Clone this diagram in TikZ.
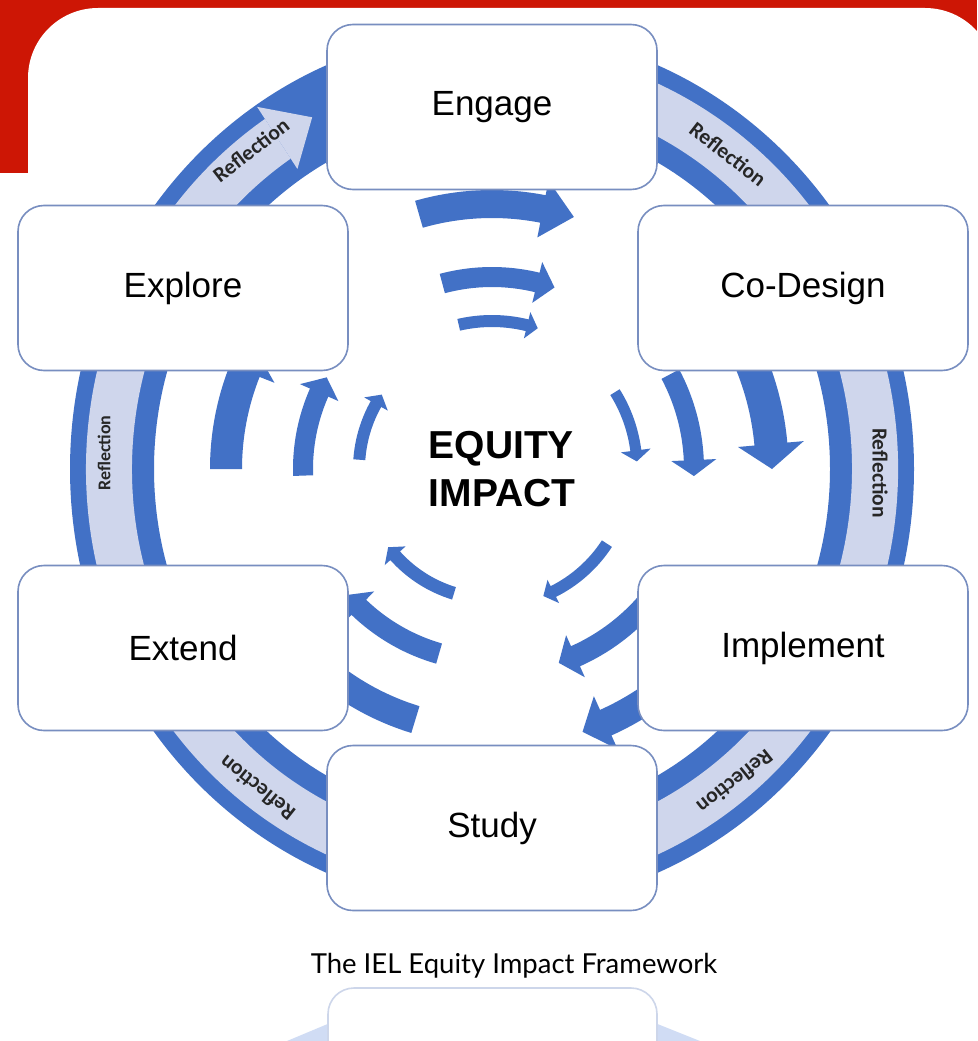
\documentclass[tikz,border=0pt]{standalone}
\usepackage{fontspec}
\setmainfont{Liberation Sans}
\newfontfamily\reflfont{Carlito}
\newfontfamily\capfont{Lato}
\definecolor{ringblue}{RGB}{66,113,198}
\definecolor{lightband}{RGB}{207,214,236}
\definecolor{boxborder}{RGB}{120,142,192}
\definecolor{bgred}{RGB}{205,22,5}
\definecolor{faintbox}{RGB}{205,214,234}
\definecolor{faintblue}{RGB}{208,220,244}
\newcommand\eqarrow[6]{%
  \pgfmathsetmacro\hbase{#3-#6/#1*57.2958}%
  \pgfmathsetmacro\ri{#1-#4/2}\pgfmathsetmacro\ro{#1+#4/2}%
  \pgfmathsetmacro\hi{#1-#5/2}\pgfmathsetmacro\ho{#1+#5/2}%
  \fill[ringblue] (#2:\ro) arc[start angle=#2,end angle=\hbase,radius=\ro]
     -- (\hbase:\ho) -- (#3:#1) -- (\hbase:\hi) -- (\hbase:\ri)
     arc[start angle=\hbase,end angle=#2,radius=\ri] -- cycle;}
\begin{document}
\begin{tikzpicture}[x=1pt,y=-1pt,
  stagebox/.style={draw=boxborder, line width=1.6pt, fill=white, rounded corners=26pt,
    minimum width=330pt, minimum height=165pt, inner sep=0pt,
    font=\fontsize{35}{40}\selectfont},
  refl/.style={font=\reflfont\bfseries\fontsize{21.5}{24}\selectfont, inner sep=0pt, text=black!85},
  refls/.style={refl, font=\reflfont\bfseries\fontsize{18}{20}\selectfont}]
\useasboundingbox (0,0) rectangle (977,1041);
% background
\fill[white] (0,0) rectangle (977,1041);
\fill[bgred] (0,0) rectangle (977,173);
\fill[white, rounded corners=70pt] (28,8) rectangle (995,1300);
% faint mirrored reflection at the bottom
\fill[faintblue] (287,1041) -- (330,1023) -- (330,1041) -- cycle;
\fill[faintblue] (655,1023) -- (700,1041) -- (655,1041) -- cycle;
\draw[faintbox, line width=1.6pt, fill=white, rounded corners=26pt] (328,988) rectangle (657,1200);
% ring
\begin{scope}[shift={(492,469)}, yscale=1.04]
  \fill[ringblue, even odd rule] (0,0) circle[radius=422] (0,0) circle[radius=338];
  \fill[lightband] (-110:406) arc[start angle=-110, end angle=236, radius=406]
     -- (236:360) arc[start angle=236, end angle=-110, radius=360] -- cycle;
  \fill[lightband] (236:348) -- (236:420) -- (242:383) -- cycle;
\end{scope}
% reflection labels
\node[refl, rotate=37.7] (r1) at (251,150) {Reflection};
\node[refl, rotate=-37.6] (r2) at (728,154) {Reflection};
\node[refl, rotate=-90] (r3) at (880,473) {Reflection};
\node[refl, rotate=-141.6] (r4) at (735,782) {Reflection};
\node[refl, rotate=141.5] (r5) at (257,788) {Reflection};
\node[refls, rotate=90] (r6) at (104,453) {Reflection};
% curved arrows
\begin{scope}[shift={(492,469)}]
  \eqarrow{265}{-106}{-72}{28}{58}{32}
  \eqarrow{192}{-105}{-71}{20}{42}{18}
  \eqarrow{148}{-103}{-72}{12}{27}{11}
  \eqarrow{280}{-32}{0}{33}{66}{25}
  \eqarrow{202}{-28}{2}{20}{45}{16}
  \eqarrow{145}{-32}{-3}{11}{30}{11}
  \eqarrow{278}{45}{71}{28}{58}{25}
  \eqarrow{205}{40}{71}{22}{46}{18}
  \eqarrow{137}{33}{68}{12}{26}{11}
  \eqarrow{262}{107}{142}{28}{58}{25}
  \eqarrow{192}{106}{139}{21}{44}{17}
  \eqarrow{130}{107}{143}{13}{28}{11}
  \eqarrow{266}{180}{207}{32}{64}{25}
  \eqarrow{189}{178}{209}{20}{42}{17}
  \eqarrow{133}{184}{214}{12}{27}{11}
\end{scope}
% stage boxes
\node[stagebox] (engage) at (492,107) {Engage};
\node[stagebox] (codesign) at (803,288) {Co-Design};
\node[stagebox] (explore) at (183,288) {Explore};
\node[stagebox] (implement) at (803,648) {Implement};
\node[stagebox] (extend) at (183,648) {Extend};
\node[stagebox] (study) at (492,828) {Study};
% centre
\node[font=\bfseries\fontsize{39}{48}\selectfont, align=left, inner sep=0pt] (equity) at (502,469) {EQUITY\\IMPACT};
% caption
\node[font=\capfont\fontsize{27.5}{32}\selectfont, inner sep=0pt] (caption) at (514,966) {The IEL Equity Impact Framework};
\end{tikzpicture}
\end{document}
